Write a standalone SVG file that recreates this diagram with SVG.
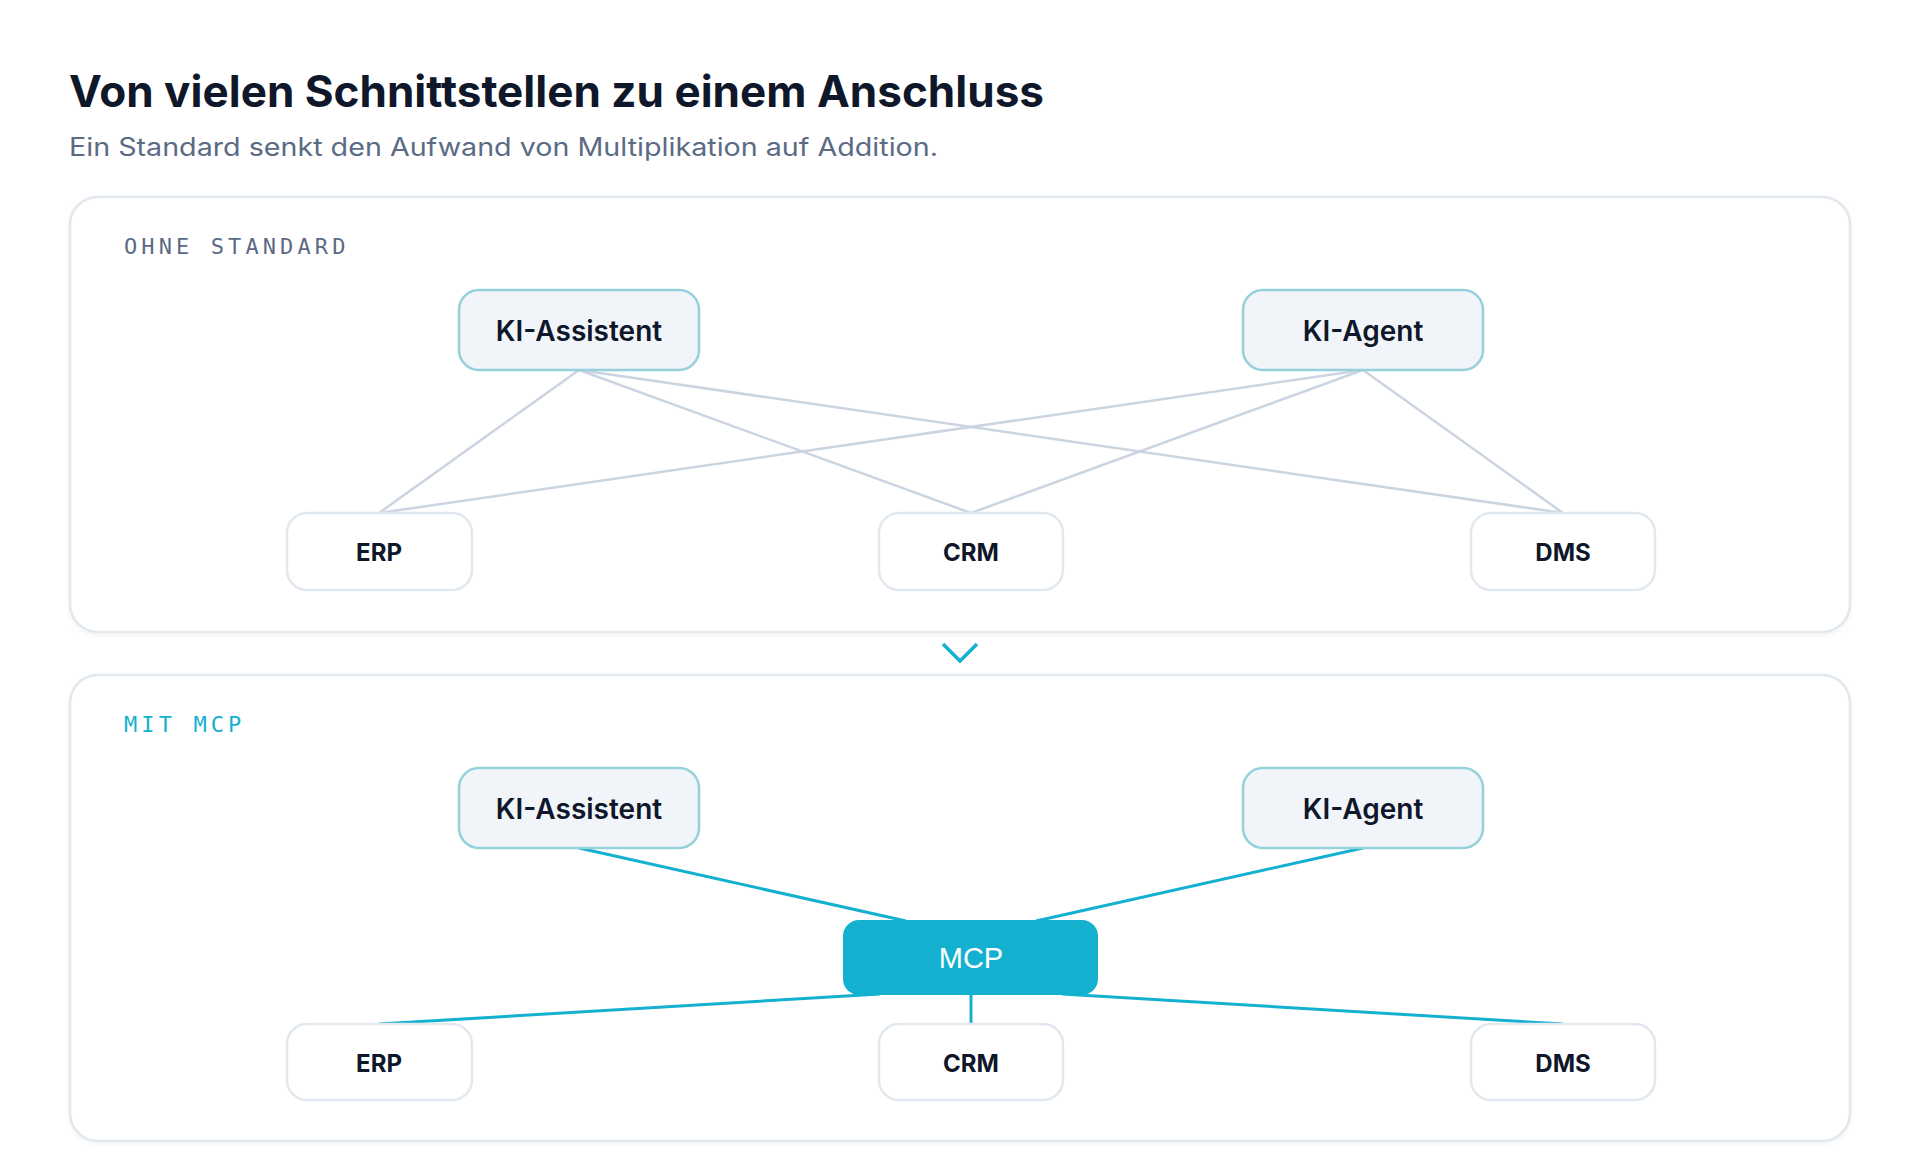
<svg xmlns="http://www.w3.org/2000/svg" width="1920" height="1172" viewBox="0 0 1920 1172">
<defs>
<style>
.title{font-family:Inter,"Liberation Sans",sans-serif;font-weight:700;font-size:44px;fill:#0f172a}
.sub{font-family:Inter,"Liberation Sans",sans-serif;font-weight:400;font-size:25px;fill:#5b6b85}
.sec{font-family:"DejaVu Sans Mono","Liberation Mono",monospace;font-size:22px;letter-spacing:4.1px}
.panel{fill:#ffffff;stroke:#e2e8f0;stroke-width:2.5}
.ki{fill:#f1f5f9;stroke:#95d0dc;stroke-width:2.5}
.sys{fill:#ffffff;stroke:#e2e8f0;stroke-width:2.5}
.kt{font-family:Inter,"Liberation Sans",sans-serif;font-weight:600;font-size:28px;fill:#0f172a;text-anchor:middle}
.st{font-family:Inter,"Liberation Sans",sans-serif;font-weight:700;font-size:24px;fill:#0f172a;text-anchor:middle}
.grey{stroke:#cbd5e1;stroke-width:2.5;fill:none}
.cyan{stroke:#14b0d0;stroke-width:3;fill:none}
</style>
<filter id="sh" x="-5%" y="-5%" width="110%" height="115%">
<feDropShadow dx="0" dy="2" stdDeviation="2" flood-color="#0f172a" flood-opacity="0.05"/>
</filter>
</defs>
<rect width="1920" height="1172" fill="#ffffff"/>
<text class="title" x="69" y="107" textLength="975" lengthAdjust="spacingAndGlyphs">Von vielen Schnittstellen zu einem Anschluss</text>
<text class="sub" x="69" y="156" textLength="869" lengthAdjust="spacingAndGlyphs">Ein Standard senkt den Aufwand von Multiplikation auf Addition.</text>

<g id="panel-ohne">
<rect class="panel" x="70" y="197" width="1780" height="435" rx="28" filter="url(#sh)"/>
<text class="sec" x="124" y="254" fill="#5b6b85">OHNE STANDARD</text>
</g>
<g id="panel-mcp">
<rect class="panel" x="70" y="675" width="1780" height="466" rx="28" filter="url(#sh)"/>
<text class="sec" x="124" y="732" fill="#14b0d0">MIT MCP</text>
</g>

<g id="chevron">
<polyline points="943,644 960,661 977,644" fill="none" stroke="#14b0d0" stroke-width="3.5" stroke-linejoin="miter"/>
</g>

<g id="connectors">
<line class="grey" x1="579" y1="370" x2="379" y2="513"/>
<line class="grey" x1="579" y1="370" x2="971" y2="513"/>
<line class="grey" x1="579" y1="370" x2="1563" y2="513"/>
<line class="grey" x1="1363" y1="370" x2="379" y2="513"/>
<line class="grey" x1="1363" y1="370" x2="971" y2="513"/>
<line class="grey" x1="1363" y1="370" x2="1563" y2="513"/>
<line class="cyan" x1="579" y1="848" x2="906" y2="921"/>
<line class="cyan" x1="1363" y1="848" x2="1036" y2="921"/>
<line class="cyan" x1="880" y1="994" x2="379" y2="1024"/>
<line class="cyan" x1="971" y1="994" x2="971" y2="1024"/>
<line class="cyan" x1="1062" y1="994" x2="1563" y2="1024"/>
</g>

<g id="top-ki-assistent">
<rect class="ki" x="459" y="290" width="240" height="80" rx="20"/>
<text class="kt" x="579" y="341">KI-Assistent</text>
</g>
<g id="top-ki-agent">
<rect class="ki" x="1243" y="290" width="240" height="80" rx="20"/>
<text class="kt" x="1363" y="341">KI-Agent</text>
</g>
<g id="top-erp">
<rect class="sys" x="287" y="513" width="185" height="77" rx="20"/>
<text class="st" x="379" y="561">ERP</text>
</g>
<g id="top-crm">
<rect class="sys" x="879" y="513" width="184" height="77" rx="20"/>
<text class="st" x="971" y="561">CRM</text>
</g>
<g id="top-dms">
<rect class="sys" x="1471" y="513" width="184" height="77" rx="20"/>
<text class="st" x="1563" y="561">DMS</text>
</g>

<g id="bottom-ki-assistent">
<rect class="ki" x="459" y="768" width="240" height="80" rx="20"/>
<text class="kt" x="579" y="819">KI-Assistent</text>
</g>
<g id="bottom-ki-agent">
<rect class="ki" x="1243" y="768" width="240" height="80" rx="20"/>
<text class="kt" x="1363" y="819">KI-Agent</text>
</g>
<g id="mcp">
<rect x="843" y="920" width="255" height="75" rx="16" fill="#14b0d0"/>
<text x="971" y="968" text-anchor="middle" font-family="'Liberation Sans',Arial,sans-serif" font-size="29" fill="#ffffff">MCP</text>
</g>
<g id="bottom-erp">
<rect class="sys" x="287" y="1024" width="185" height="76" rx="20"/>
<text class="st" x="379" y="1072">ERP</text>
</g>
<g id="bottom-crm">
<rect class="sys" x="879" y="1024" width="184" height="76" rx="20"/>
<text class="st" x="971" y="1072">CRM</text>
</g>
<g id="bottom-dms">
<rect class="sys" x="1471" y="1024" width="184" height="76" rx="20"/>
<text class="st" x="1563" y="1072">DMS</text>
</g>
</svg>
